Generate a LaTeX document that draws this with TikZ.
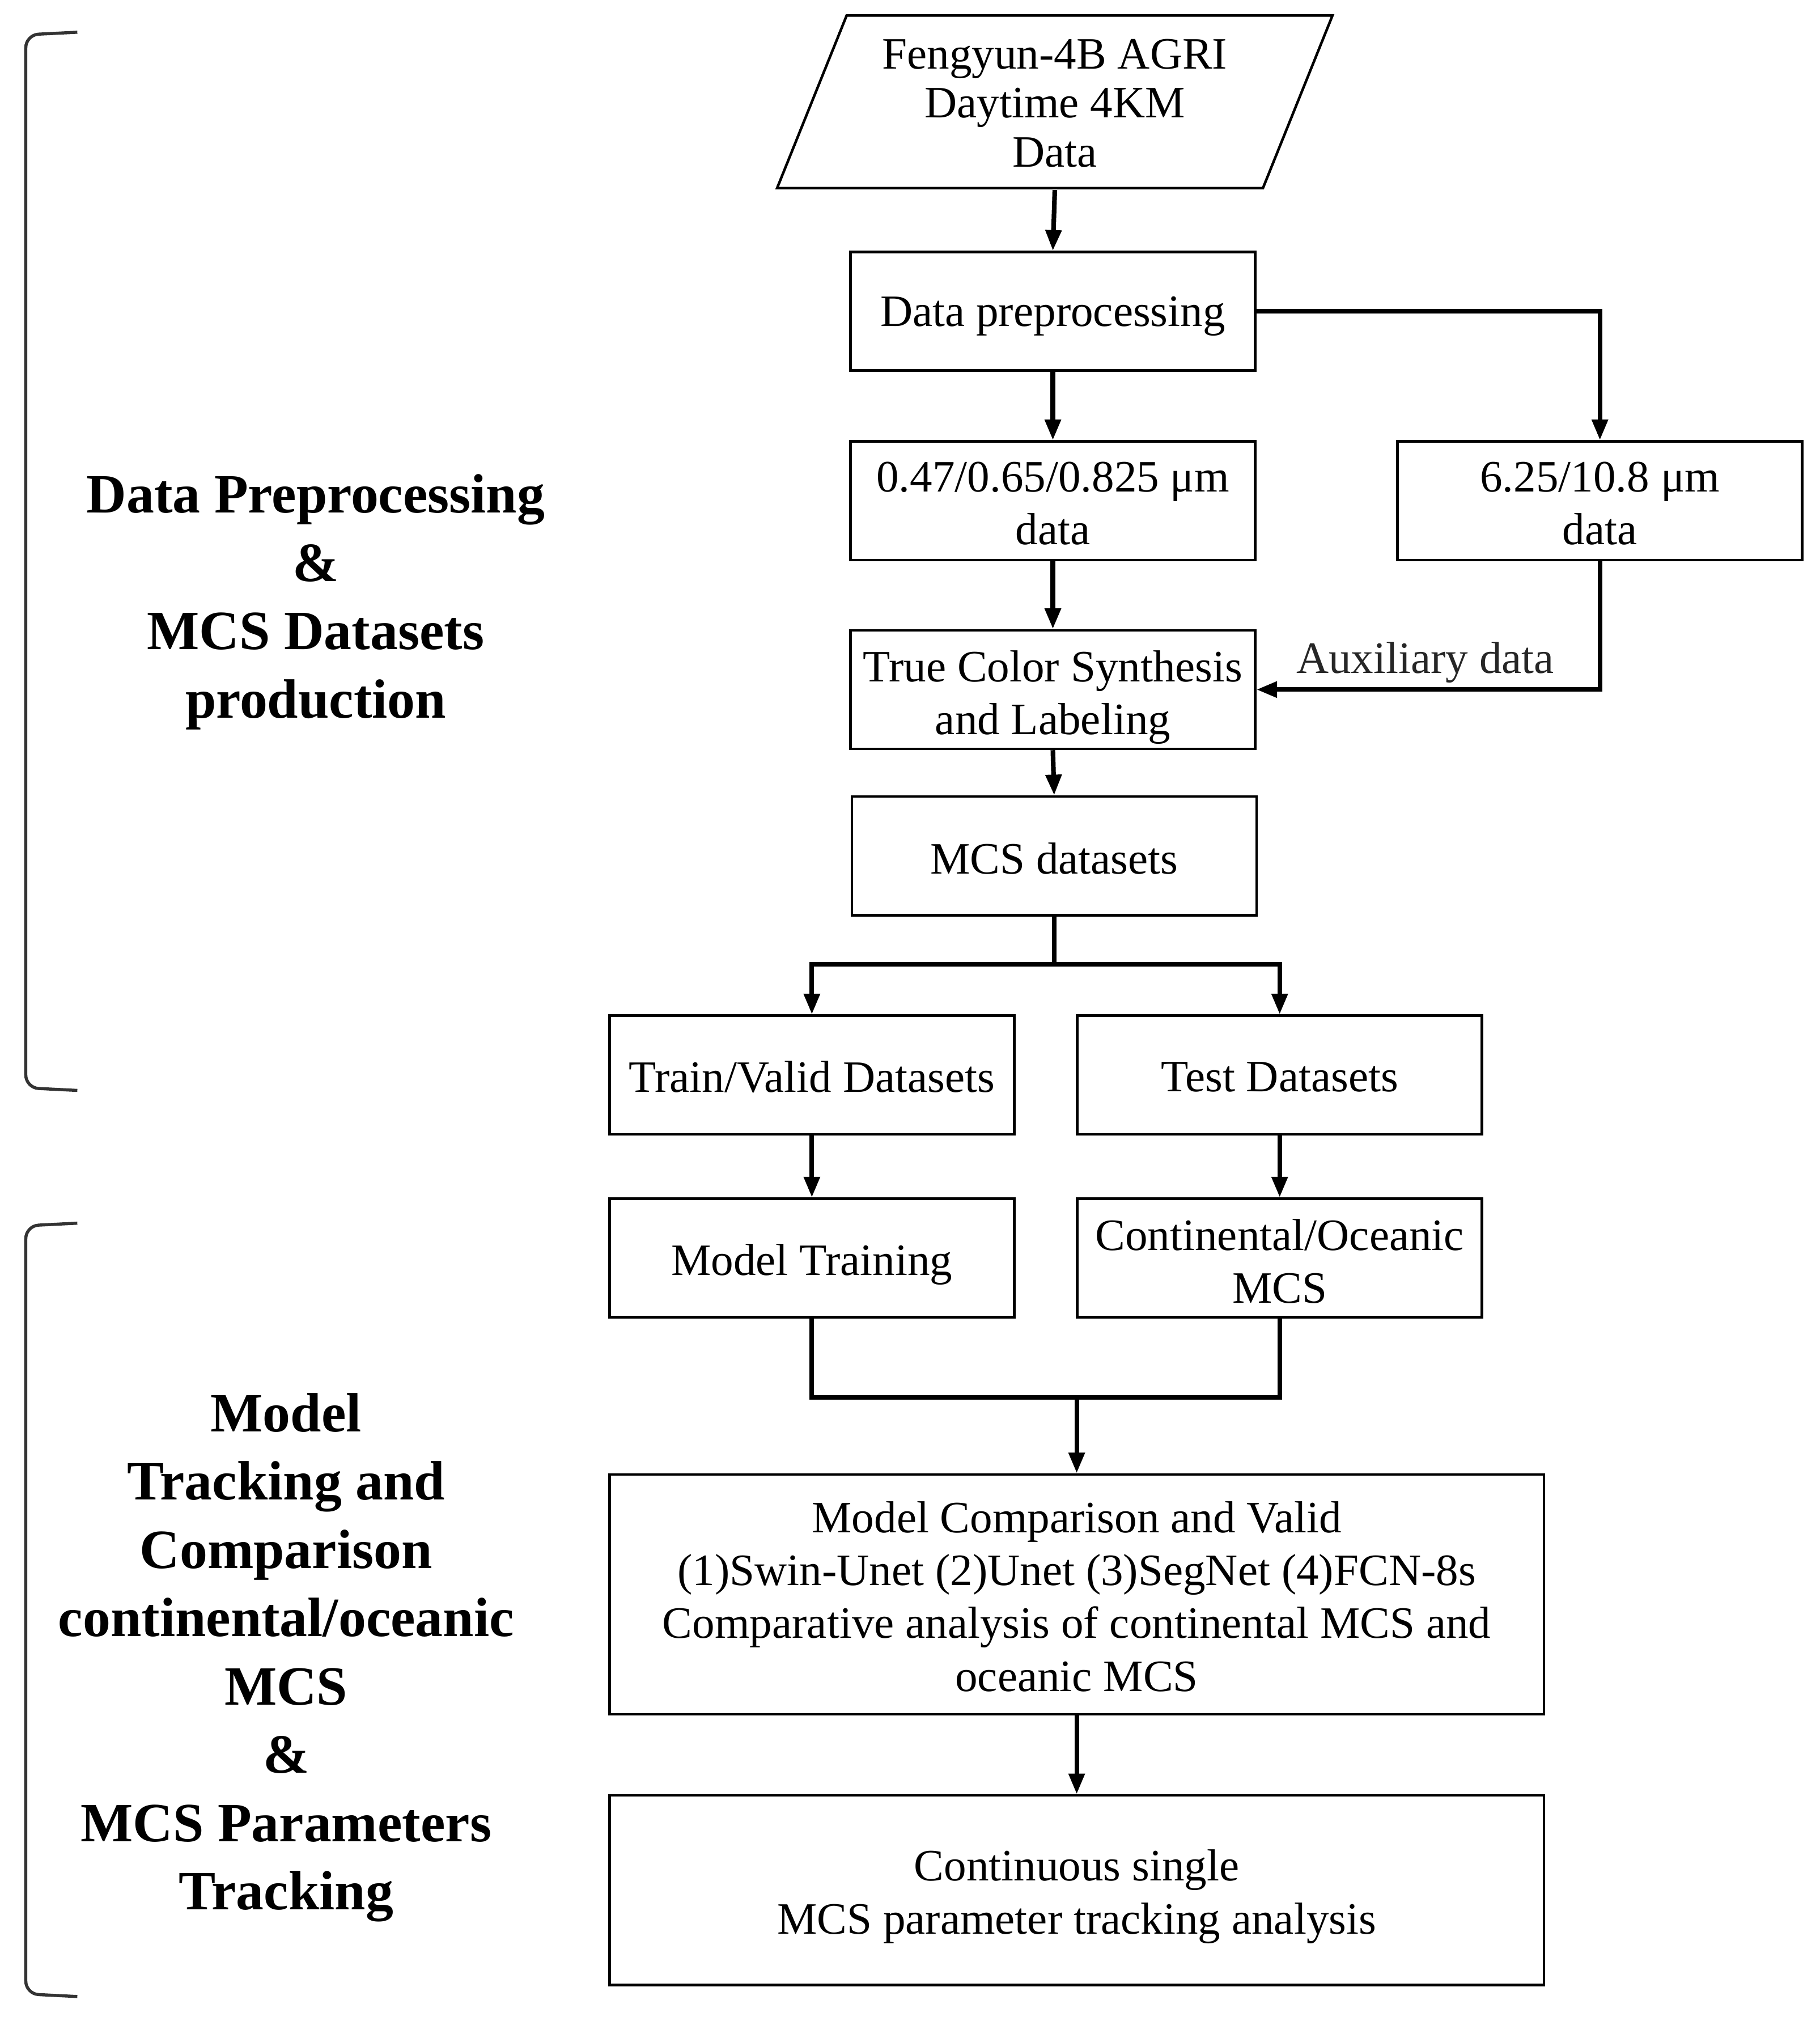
\documentclass[tikz,border=0pt]{standalone}
\usepackage{fontspec}
\setmainfont{Liberation Serif}
\usetikzlibrary{arrows.meta}
\newcommand{\flowbox}[5]{%
  \node[box,#1] (#2) at (#3) {};
  \node[boxtext] (#2-t) at ([yshift=-#4]#2.center) {#5};}
\begin{document}
\begin{tikzpicture}[x=0.5pt,y=-0.5pt,
  box/.style={draw, line width=1pt, minimum width=157pt, minimum height=46pt, inner sep=0pt},
  boxtext/.style={align=center, inner sep=0pt, font=\fontsize{17.4}{20.5}\selectfont},
  conn/.style={line width=1.8pt},
  arr/.style={conn, -{Triangle[length=8pt,width=6pt]}},
  brk/.style={draw=black!80, line width=1.2pt, rounded corners=5pt},
  side/.style={align=center, font=\fontsize{21.5}{26.5}\selectfont\bfseries},
  lbl/.style={font=\fontsize{17.4}{20.5}\selectfont, text=black!85, inner sep=0pt}]
\useasboundingbox[fill=white] (0,0) rectangle (1412,1568);

% source parallelogram
\node[minimum width=161pt, minimum height=67pt, inner sep=0pt, align=center,
  font=\fontsize{17.4}{19}\selectfont] (src) at (818.5,80)
  {Fengyun-4B AGRI\\Daytime 4KM\\Data};
\draw[line width=1pt] (657,12) -- (1034,12) -- (980,146) -- (603,146) -- cycle;

\flowbox{}{prep}{817,241.5}{2pt}{Data preprocessing}
\flowbox{}{vis}{817,388.5}{1pt}{0.47/0.65/0.825 μm\\data}
\flowbox{}{ir}{1241.5,388.5}{1pt}{6.25/10.8 μm\\data}
\flowbox{}{tcs}{817,535}{3pt}{True Color Synthesis\\and Labeling}
\flowbox{}{mcs}{818,664}{1pt}{MCS datasets}
\flowbox{}{train}{630,834}{0.8pt}{Train/Valid Datasets}
\flowbox{}{test}{993,834}{0.8pt}{Test Datasets}
\flowbox{}{mt}{630,976}{2.5pt}{Model Training}
\flowbox{}{co}{993,976}{1.3pt}{Continental/Oceanic\\MCS}
\flowbox{minimum width=362.5pt, minimum height=93pt}{comp}{835.5,1237}{0.8pt}{Model Comparison and Valid\\(1)Swin-Unet (2)Unet (3)SegNet (4)FCN-8s\\Comparative analysis of continental MCS and\\oceanic MCS}
\flowbox{minimum width=362.5pt, minimum height=73.5pt}{cont}{835.5,1466.5}{2.5pt}{Continuous single\\MCS parameter tracking analysis}

\node[lbl] (aux) at (1106,514) {Auxiliary data};

% connectors
\draw[arr] (src.south) -- (prep.north);
\draw[arr] (prep.east) -| (ir.north);
\draw[arr] (prep.south) -- (vis.north);
\draw[arr] (vis.south) -- (tcs.north);
\draw[arr] (ir.south) |- (tcs.east);
\draw[arr] (tcs.south) -- (mcs.north);
\coordinate (br) at (818,748);
\draw[conn] (mcs.south) -- (br);
\draw[arr] (br) -| (train.north);
\draw[arr] (br) -| (test.north);
\draw[arr] (train.south) -- (mt.north);
\draw[arr] (test.south) -- (co.north);
\coordinate (jn) at (835.5,1084);
\draw[conn] (mt.south) |- (jn) -| (co.south);
\draw[arr] (jn) -- (comp.north);
\draw[arr] (comp.south) -- (cont.north);

% brackets
\draw[brk] (60,25) -- (20,27) -- (20,844) -- (60,846);
\draw[brk] (60,949) -- (20,951) -- (20,1547) -- (60,1549);

\node[side] (lab1) at (245,467) {Data Preprocessing\\\&\\MCS Datasets\\production};
\node[side] (lab2) at (222,1286) {Model\\Tracking and\\Comparison\\continental/oceanic\\MCS\\\&\\MCS Parameters\\Tracking};
\end{tikzpicture}
\end{document}
